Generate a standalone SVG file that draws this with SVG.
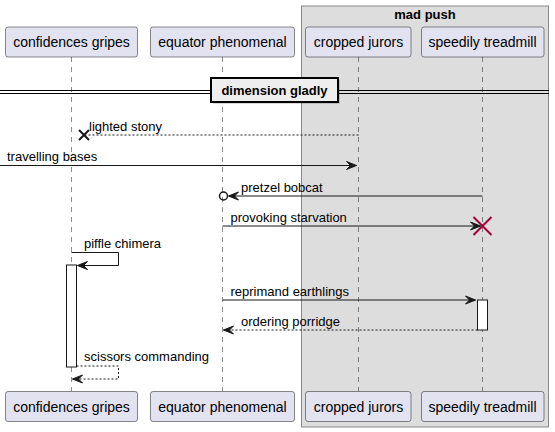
<svg xmlns="http://www.w3.org/2000/svg" width="555" height="432" viewBox="0 0 555 432">
<style>
.part{fill:#E2E2F0;stroke:#181818;stroke-width:0.5}
.pt{font-family:"Liberation Sans",Arial,sans-serif;font-size:14px;fill:#000;text-anchor:middle}
.mt{font-family:"Liberation Sans",Arial,sans-serif;font-size:13px;fill:#000}
.life{stroke:#181818;stroke-width:0.5;stroke-dasharray:5,5;fill:none}
.msg{stroke:#181818;stroke-width:1;fill:none}
.dash{stroke:#181818;stroke-width:1;fill:none;stroke-dasharray:2,2}
.head{fill:#181818;stroke:#181818;stroke-width:1}
.act{fill:#FFFFFF;stroke:#181818;stroke-width:1}
</style>
<rect x="0" y="0" width="555" height="432" fill="#FFFFFF"/>
<g id="box-mad-push">
<rect x="301.5" y="6" width="247" height="421" fill="#DDDDDD" stroke="#888888" stroke-width="1"/>
<text x="425" y="19" font-family="Liberation Sans,Arial,sans-serif" font-size="13" font-weight="bold" text-anchor="middle">mad push</text>
</g>
<g id="lifelines">
<line class="life" x1="71.5" y1="57" x2="71.5" y2="391"/>
<line class="life" x1="222.5" y1="57" x2="222.5" y2="391"/>
<line class="life" x1="358.5" y1="57" x2="358.5" y2="391"/>
<line class="life" x1="482.5" y1="57" x2="482.5" y2="391"/>
</g>
<g id="node-confidences-gripes">
<rect class="part" x="5.5" y="27" width="132" height="30" rx="2.5"/>
<text class="pt" x="71.5" y="47">confidences gripes</text>
<rect class="part" x="5.5" y="391.5" width="132" height="30" rx="2.5"/>
<text class="pt" x="71.5" y="412">confidences gripes</text>
</g>
<g id="node-equator-phenomenal">
<rect class="part" x="150.5" y="27" width="144" height="30" rx="2.5"/>
<text class="pt" x="222.5" y="47">equator phenomenal</text>
<rect class="part" x="150.5" y="391.5" width="144" height="30" rx="2.5"/>
<text class="pt" x="222.5" y="412">equator phenomenal</text>
</g>
<g id="node-cropped-jurors">
<rect class="part" x="305.5" y="27" width="105.5" height="30" rx="2.5"/>
<text class="pt" x="358.5" y="47">cropped jurors</text>
<rect class="part" x="305.5" y="391.5" width="105.5" height="30" rx="2.5"/>
<text class="pt" x="358.5" y="412">cropped jurors</text>
</g>
<g id="node-speedily-treadmill">
<rect class="part" x="421.5" y="27" width="122.5" height="30" rx="2.5"/>
<text class="pt" x="482.5" y="47">speedily treadmill</text>
<rect class="part" x="421.5" y="391.5" width="122.5" height="30" rx="2.5"/>
<text class="pt" x="482.5" y="412">speedily treadmill</text>
</g>
<g id="divider">
<line x1="0" y1="90.5" x2="549" y2="90.5" stroke="#000" stroke-width="1"/>
<line x1="0" y1="93.5" x2="549" y2="93.5" stroke="#000" stroke-width="1"/>
<rect x="213" y="80" width="127" height="24" fill="#000000" opacity="0.15"/>
<rect x="211" y="78" width="127" height="24" fill="#EEEEEE" stroke="#000" stroke-width="2"/>
<text x="274.5" y="95" font-family="Liberation Sans,Arial,sans-serif" font-size="13" font-weight="bold" text-anchor="middle">dimension gladly</text>
</g>
<g id="activations">
<rect class="act" x="66.5" y="265" width="10" height="102"/>
<rect class="act" x="477.5" y="300" width="10" height="30"/>
</g>
<g id="connectors">
<line class="dash" x1="358.5" y1="135" x2="84" y2="135"/>
<path d="M79,130 L89,140 M79,140 L89,130" stroke="#181818" stroke-width="2"/>
<text class="mt" x="89" y="131">lighted stony</text>
<line class="msg" x1="0" y1="165.5" x2="356.5" y2="165.5"/>
<polygon class="head" points="346.5,161.5 356.5,165.5 346.5,169.5 350.5,165.5"/>
<text class="mt" x="7" y="161">travelling bases</text>
<line class="msg" x1="482.5" y1="196" x2="229" y2="196"/>
<polygon class="head" points="238.5,192 228.5,196 238.5,200 234.5,196"/>
<circle cx="223.5" cy="196" r="4" fill="none" stroke="#181818" stroke-width="1.5"/>
<text class="mt" x="241" y="192">pretzel bobcat</text>
<line class="msg" x1="222.5" y1="226" x2="480.5" y2="226"/>
<polygon class="head" points="470.5,222 480.5,226 470.5,230 474.5,226"/>
<path d="M473.5,217 L491.5,235 M473.5,235 L491.5,217" stroke="#A80036" stroke-width="2"/>
<text class="mt" x="230.5" y="222">provoking starvation</text>
<polyline class="msg" points="71.5,252.5 118.5,252.5 118.5,265.5 77.5,265.5"/>
<polygon class="head" points="87.5,261.5 77.5,265.5 87.5,269.5 83.5,265.5"/>
<text class="mt" x="84" y="248">piffle chimera</text>
<line class="msg" x1="222.5" y1="300" x2="475.5" y2="300"/>
<polygon class="head" points="465.5,296 475.5,300 465.5,304 469.5,300"/>
<text class="mt" x="230.5" y="296">reprimand earthlings</text>
<line class="dash" x1="477.5" y1="330" x2="223.5" y2="330"/>
<polygon class="head" points="233.5,326 223.5,330 233.5,334 229.5,330"/>
<text class="mt" x="241" y="326">ordering porridge</text>
<polyline class="dash" points="76.5,366 118.5,366 118.5,379 72.5,379"/>
<polygon class="head" points="82.5,375 72.5,379 82.5,383 78.5,379"/>
<text class="mt" x="84" y="361">scissors commanding</text>
</g>
</svg>
